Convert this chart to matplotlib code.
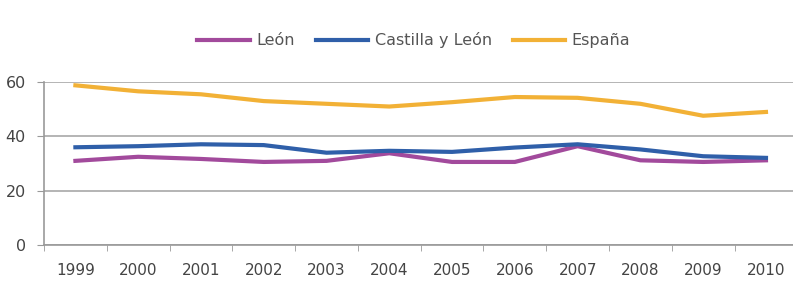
import matplotlib.pyplot as plt
import numpy as np

years = ["1999", "2000", "2001", "2002", "2003", "2004",
         "2005", "2006", "2007", "2008", "2009", "2010"]
leon = [31.0, 32.5, 31.7, 30.6, 31.0, 33.8, 30.6, 30.6, 36.4, 31.2, 30.6, 31.2]
castilla = [36.0, 36.4, 37.1, 36.8, 34.0, 34.7, 34.3, 35.9, 37.1, 35.2, 32.7, 32.1]
espana = [58.8, 56.6, 55.5, 53.0, 52.0, 51.0, 52.6, 54.5, 54.2, 52.0, 47.6, 49.0]

fig = plt.figure(figsize=(7.93, 2.83), dpi=100)
ax = fig.add_axes([0.0555, 0.134, 0.95, 0.576])

x = np.arange(len(years))
ax.plot(x, leon, color="#a24a9c", lw=3.0, label="León")
ax.plot(x, castilla, color="#2f5fa9", lw=3.0, label="Castilla y León")
ax.plot(x, espana, color="#f2b136", lw=3.0, label="España")

ax.set_xlim(-0.5, 11.5)
ax.set_ylim(0, 60)
ax.set_yticks([0, 20, 40, 60])
ax.set_xticks(x)
ax.set_xticklabels(years)
ax.set_xticks(np.arange(-0.5, 12, 1), minor=True)
ax.tick_params(axis="x", which="major", length=0, pad=13, labelsize=11, colors="#444444")
ax.tick_params(axis="x", which="minor", length=4, color="#999999")
ax.tick_params(axis="y", length=5, color="#999999", labelsize=11.5, labelcolor="#444444", pad=8)

ax.grid(axis="y", color="#a8a8a8", lw=1.2)
ax.set_axisbelow(True)
for s in ["top", "right"]:
    ax.spines[s].set_visible(False)
ax.spines["left"].set_color("#999999")
ax.spines["bottom"].set_color("#999999")
ax.spines["left"].set_linewidth(1.2)
ax.spines["bottom"].set_linewidth(1.2)

fig.legend(loc="center", bbox_to_anchor=(0.522, 0.857), ncol=3, frameon=False,
           fontsize=11.5, handlelength=3.3, columnspacing=1.3, handletextpad=0.4,
           labelcolor="#555555")

fig.savefig("out.png", dpi=100)
